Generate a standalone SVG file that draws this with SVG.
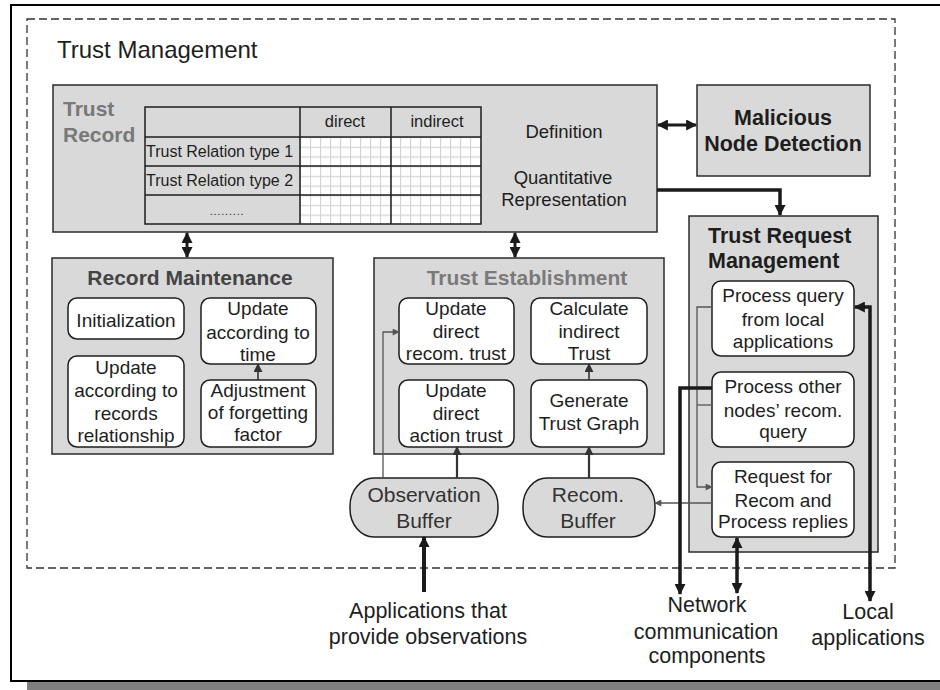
<svg xmlns="http://www.w3.org/2000/svg" width="940" height="690" viewBox="0 0 940 690">
  <defs>
    <style>
      text { font-family: "Liberation Sans", Arial, sans-serif; fill: #1e1e1e; }
      .panel { fill: #d9d9d9; stroke: #2a2a2a; stroke-width: 1.5; }
      .item { fill: #ffffff; stroke: #1e1e1e; stroke-width: 1.5; }
      .buffer { fill: #d9d9d9; stroke: #1e1e1e; stroke-width: 1.5; }
      .grid { stroke: #1e1e1e; stroke-width: 1.5; fill: none; }
      .t19 { font-size: 19px; text-anchor: middle; }
      .t16 { font-size: 16px; }
      .t18 { font-size: 18.5px; text-anchor: middle; }
      .big { font-size: 21.5px; text-anchor: middle; }
      .bold { font-weight: bold; font-size: 21px; }
      .thick { fill: none; stroke: #1a1a1a; stroke-width: 3.5; }
      .mid { fill: none; stroke: #333333; stroke-width: 2.2; }
      .thin { fill: none; stroke: #555555; stroke-width: 1.3; }
    </style>
    <pattern id="cells" width="10" height="9.7" patternUnits="userSpaceOnUse" x="300" y="137">
      <rect width="10" height="9.7" fill="#ffffff"/>
      <path d="M0.5,0 V9.7 M0,0.5 H10" stroke="#d4d4d4" stroke-width="1.2" fill="none"/>
    </pattern>
    <marker id="ah" viewBox="0 0 10 10" refX="9" refY="5" markerUnits="userSpaceOnUse" markerWidth="12" markerHeight="11" orient="auto-start-reverse">
      <path d="M0,0 L10,5 L0,10 z" fill="#1a1a1a"/>
    </marker>
    <marker id="ahm" viewBox="0 0 10 10" refX="9" refY="5" markerUnits="userSpaceOnUse" markerWidth="9" markerHeight="9" orient="auto-start-reverse">
      <path d="M0,0 L10,5 L0,10 z" fill="#333333"/>
    </marker>
    <marker id="ahs" viewBox="0 0 10 10" refX="9" refY="5" markerUnits="userSpaceOnUse" markerWidth="8" markerHeight="7" orient="auto-start-reverse">
      <path d="M0,0 L10,5 L0,10 z" fill="#555555"/>
    </marker>
  </defs>

  <rect width="940" height="690" fill="#ffffff"/>

  <!-- page frame and drop shadow -->
  <rect x="27" y="682" width="913" height="8" fill="#7f7f7f"/>
  <path d="M940,5 H11 V681 H940" fill="none" stroke="#000000" stroke-width="2"/>

  <!-- trust management boundary -->
  <g id="trust-management">
    <rect x="27" y="19" width="868" height="549" fill="none" stroke="#333333" stroke-width="1.3" stroke-dasharray="8 4"/>
    <text x="57" y="58" style="font-size:24px">Trust Management</text>
  </g>

  <!-- trust record with its table -->
  <g id="trust-record">
    <rect class="panel" x="53" y="85" width="604" height="147"/>
    <text class="bold" x="63" y="116" style="fill:#787878">Trust</text>
    <text class="bold" x="63" y="142" style="fill:#787878">Record</text>
    <rect x="300" y="137" width="181" height="87" fill="url(#cells)"/>
    <rect class="grid" x="145" y="107" width="336" height="117"/>
    <path class="grid" d="M300,107 V224 M391,107 V224 M145,137 H481 M145,166 H481 M145,195 H481"/>
    <text class="t16" x="345" y="127" style="text-anchor:middle;font-size:16.5px">direct</text>
    <text class="t16" x="437" y="127" style="text-anchor:middle;font-size:16.5px">indirect</text>
    <text class="t16" x="146" y="157">Trust Relation type 1</text>
    <text class="t16" x="146" y="186">Trust Relation type 2</text>
    <text class="t16" x="227" y="215" style="text-anchor:middle;font-size:11px;letter-spacing:0.8px">.........</text>
    <text class="t18" x="564" y="138">Definition</text>
    <text class="t18" x="563" y="184">Quantitative</text>
    <text class="t18" x="564" y="206">Representation</text>
  </g>

  <!-- malicious node detection -->
  <g id="malicious-node-detection">
    <rect class="panel" x="697" y="85" width="173" height="91"/>
    <text class="bold" x="783" y="125" style="text-anchor:middle;font-size:21.5px">Malicious</text>
    <text class="bold" x="783" y="151" style="text-anchor:middle;font-size:21.5px">Node Detection</text>
  </g>

  <!-- record maintenance -->
  <g id="record-maintenance">
    <rect class="panel" x="52" y="258" width="281" height="196"/>
    <text class="bold" x="190" y="285" style="text-anchor:middle;fill:#444444">Record Maintenance</text>
    <g id="rm-init">
      <rect class="item" x="68" y="298" width="116" height="41" rx="9"/>
      <text class="t19" x="126" y="327">Initialization</text>
    </g>
    <g id="rm-time">
      <rect class="item" x="201" y="298" width="115" height="66" rx="9"/>
      <text class="t19" x="258" y="315">Update</text>
      <text class="t19" x="258" y="339">according to</text>
      <text class="t19" x="258" y="361">time</text>
    </g>
    <g id="rm-relationship">
      <rect class="item" x="68" y="356" width="116" height="91" rx="9"/>
      <text class="t19" x="126" y="374">Update</text>
      <text class="t19" x="126" y="397">according to</text>
      <text class="t19" x="126" y="420">records</text>
      <text class="t19" x="126" y="442">relationship</text>
    </g>
    <g id="rm-forgetting">
      <rect class="item" x="201" y="380" width="115" height="67" rx="9"/>
      <text class="t19" x="258" y="397">Adjustment</text>
      <text class="t19" x="258" y="419">of forgetting</text>
      <text class="t19" x="258" y="441">factor</text>
    </g>
  </g>

  <!-- trust establishment -->
  <g id="trust-establishment">
    <rect class="panel" x="374" y="258" width="290" height="196"/>
    <text class="bold" x="527" y="285" style="text-anchor:middle;fill:#7a7a7a">Trust Establishment</text>
    <g id="te-recom">
      <rect class="item" x="399" y="298" width="115" height="66" rx="9"/>
      <text class="t19" x="456" y="315">Update</text>
      <text class="t19" x="456" y="338">direct</text>
      <text class="t19" x="456" y="360">recom. trust</text>
    </g>
    <g id="te-indirect">
      <rect class="item" x="531" y="298" width="116" height="66" rx="9"/>
      <text class="t19" x="589" y="315">Calculate</text>
      <text class="t19" x="589" y="338">indirect</text>
      <text class="t19" x="589" y="360">Trust</text>
    </g>
    <g id="te-action">
      <rect class="item" x="399" y="380" width="115" height="67" rx="9"/>
      <text class="t19" x="456" y="397">Update</text>
      <text class="t19" x="456" y="420">direct</text>
      <text class="t19" x="456" y="442">action trust</text>
    </g>
    <g id="te-graph">
      <rect class="item" x="531" y="380" width="116" height="67" rx="9"/>
      <text class="t19" x="589" y="407">Generate</text>
      <text class="t19" x="589" y="430">Trust Graph</text>
    </g>
  </g>

  <!-- trust request management -->
  <g id="trust-request-management">
    <rect class="panel" x="689" y="216" width="189" height="336"/>
    <text class="bold" x="708" y="243" style="font-size:21.5px">Trust Request</text>
    <text class="bold" x="708" y="268" style="font-size:21.5px">Management</text>
    <g id="trm-local">
      <rect class="item" x="712" y="281" width="142" height="75" rx="9"/>
      <text class="t19" x="783" y="302">Process query</text>
      <text class="t19" x="783" y="326">from local</text>
      <text class="t19" x="783" y="348">applications</text>
    </g>
    <g id="trm-other">
      <rect class="item" x="712" y="372" width="142" height="75" rx="9"/>
      <text class="t19" x="783" y="393">Process other</text>
      <text class="t19" x="783" y="417">nodes’ recom.</text>
      <text class="t19" x="783" y="438">query</text>
    </g>
    <g id="trm-request">
      <rect class="item" x="712" y="462" width="142" height="75" rx="9"/>
      <text class="t19" x="783" y="483">Request for</text>
      <text class="t19" x="783" y="507">Recom and</text>
      <text class="t19" x="783" y="528">Process replies</text>
    </g>
  </g>

  <!-- buffers -->
  <g id="observation-buffer">
    <rect class="buffer" x="350" y="478" width="148" height="59" rx="24" ry="28"/>
    <text class="big" x="424" y="502" style="font-size:21px;fill:#333333">Observation</text>
    <text class="big" x="424" y="528" style="font-size:21px;fill:#333333">Buffer</text>
  </g>
  <g id="recom-buffer">
    <rect class="buffer" x="523" y="478" width="132" height="59" rx="24" ry="28"/>
    <text class="big" x="588" y="502" style="font-size:21px;fill:#333333">Recom.</text>
    <text class="big" x="588" y="528" style="font-size:21px;fill:#333333">Buffer</text>
  </g>

  <!-- external parties -->
  <g id="observation-apps">
    <text class="big" x="428" y="618">Applications that</text>
    <text class="big" x="428" y="644">provide observations</text>
  </g>
  <g id="network-components">
    <text class="big" x="707" y="612">Network</text>
    <text class="big" x="706" y="639">communication</text>
    <text class="big" x="707" y="663">components</text>
  </g>
  <g id="local-apps">
    <text class="big" x="868" y="619">Local</text>
    <text class="big" x="868" y="645">applications</text>
  </g>

  <!-- connectors -->
  <g id="connectors">
    <path class="thick" d="M187,233 V257" marker-start="url(#ah)" marker-end="url(#ah)" style="stroke-width:3"/>
    <path class="thick" d="M515,233 V257" marker-start="url(#ah)" marker-end="url(#ah)" style="stroke-width:3"/>
    <path class="thick" d="M658,125 H696" marker-start="url(#ah)" marker-end="url(#ah)" style="stroke-width:3"/>
    <path class="thick" d="M657,190 H780 V215" marker-end="url(#ah)" style="stroke-width:3.5"/>
    <path class="mid" d="M258,380 V364" marker-end="url(#ahm)" style="stroke-width:1.6"/>
    <path class="mid" d="M589,380 V364" marker-end="url(#ahm)" style="stroke-width:1.6"/>
    <path class="thin" d="M383,478 V332 H399" marker-end="url(#ahs)"/>
    <path class="mid" d="M457,478 V447" marker-end="url(#ahm)"/>
    <path class="mid" d="M589,478 V447" marker-end="url(#ahm)"/>
    <path class="thick" d="M424,592 V537" marker-end="url(#ah)" style="stroke-width:4"/>
    <path class="thin" d="M712,503 H655" marker-end="url(#ahs)" style="stroke-width:1.6"/>
    <path class="thin" d="M712,307 H697 V487 H712" marker-end="url(#ahs)"/>
    <path class="thin" d="M712,405 H697"/>
    <path class="thick" d="M712,388 H680 V594" marker-end="url(#ah)"/>
    <path class="thick" d="M737,538 V593" marker-start="url(#ah)" marker-end="url(#ah)"/>
    <path class="thick" d="M855,307 H870 V601" marker-start="url(#ah)" marker-end="url(#ah)"/>
  </g>
</svg>
